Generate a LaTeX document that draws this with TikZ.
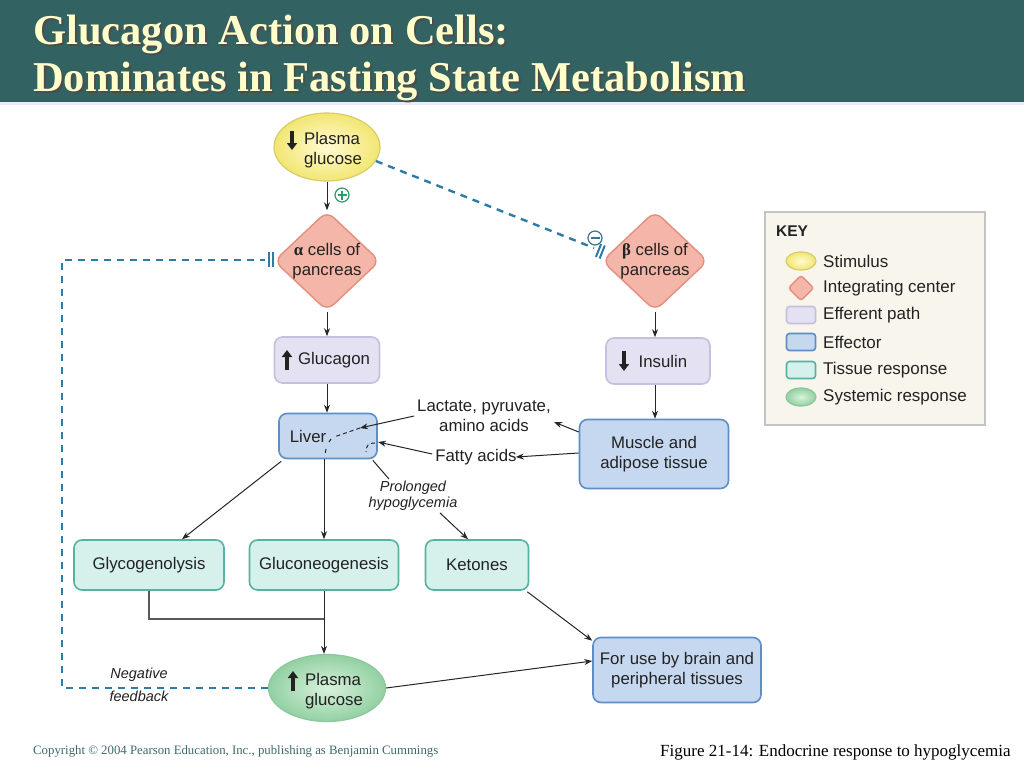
\documentclass[tikz,border=0pt]{standalone}
\usepackage{fontspec}
\setmainfont{Liberation Sans}
\newfontfamily\seriffont{Liberation Serif}
\usetikzlibrary{shapes.geometric,arrows.meta,calc}
\definecolor{banner}{HTML}{326262}
\definecolor{titletxt}{HTML}{FFFFCC}
\definecolor{txtc}{HTML}{222222}
\definecolor{stimIn}{HTML}{FFFBD2}
\definecolor{stimOut}{HTML}{F2E672}
\definecolor{stimD}{HTML}{D8CC66}
\definecolor{intF}{HTML}{F4B6A8}
\definecolor{intD}{HTML}{E48E7E}
\definecolor{effpF}{HTML}{E4E1F2}
\definecolor{effpD}{HTML}{C6BFDD}
\definecolor{effF}{HTML}{C6D8EF}
\definecolor{effD}{HTML}{5E8EC3}
\definecolor{tisF}{HTML}{D6F0EB}
\definecolor{tisD}{HTML}{55B3A3}
\definecolor{sysIn}{HTML}{D8F2DC}
\definecolor{sysOut}{HTML}{92D0A2}
\definecolor{sysD}{HTML}{8CC89C}
\definecolor{fbc}{HTML}{2E7BA6}
\definecolor{keyF}{HTML}{F7F5EC}
\definecolor{keyD}{HTML}{C4C4C4}
\definecolor{plusc}{HTML}{2F9A6A}
\definecolor{minusc}{HTML}{3F7488}
\definecolor{copyc}{HTML}{3F6A6A}
\tikzset{
  txt/.style={font=\fontsize{16.8}{19.5}\selectfont, text=txtc, align=center, inner sep=0pt},
  ital/.style={font=\fontsize{14.5}{16}\selectfont\itshape, text=txtc, align=center, inner sep=1pt},
  boxbase/.style={draw, rounded corners=8pt, line width=1.6pt, inner sep=0pt, txt},
  effpath/.style={boxbase, fill=effpF, draw=effpD},
  effector/.style={boxbase, fill=effF, draw=effD},
  tissue/.style={boxbase, fill=tisF, draw=tisD},
  stimulus/.style={ellipse, draw=stimD, line width=1.2pt, inner color=stimIn, outer color=stimOut, inner sep=0pt},
  systemic/.style={ellipse, draw=sysD, line width=1.2pt, inner color=sysIn, outer color=sysOut, inner sep=0pt},
  integ/.style={diamond, draw=intD, fill=intF, line width=1.4pt, rounded corners=9pt, inner sep=0pt},
  arr/.style={-{Stealth[length=8pt,width=6pt]}, line width=1pt, black!85},
  plain/.style={line width=1pt, black!85},
  joinline/.style={line width=1.6pt, black!65},
  fb/.style={line width=2.4pt, fbc, dash pattern=on 7pt off 6pt},
  tick/.style={line width=2pt, fbc},
  inner/.style={line width=1pt, black!85, dash pattern=on 4pt off 3pt},
  keytxt/.style={font=\fontsize{17}{19}\selectfont, text=txtc, anchor=west, inner sep=0pt},
  thickarr/.style={line width=3.2pt, txtc, -{Triangle[length=7pt,width=10pt]}},
}
\begin{document}
\begin{tikzpicture}[x=1pt,y=-1pt]
\useasboundingbox (0,0) rectangle (1024,768);
\fill[white] (0,0) rectangle (1024,768);
% banner
\fill[banner] (0,0) rectangle (1024,102);
\fill[black!15!blue!8] (0,102) rectangle (1024,105);
\foreach \dx/\dy/\col in {2/2/black!70, 0/0/titletxt}{
  \node[anchor=base west, inner sep=0pt, text=\col, font=\seriffont\bfseries\fontsize{42.5}{45}\selectfont] at (33+\dx,45+\dy) {Glucagon Action on Cells:};
  \node[anchor=base west, inner sep=0pt, text=\col, font=\seriffont\bfseries\fontsize{42.5}{45}\selectfont] at (33+\dx,91+\dy) {Dominates in Fasting State Metabolism};
}

% nodes
\node[stimulus, minimum width=106, minimum height=68] (pg1) at (327,147) {};
\node[txt, align=left] (pg1t) at (333,150) {Plasma\\glucose};
\draw[thickarr] (292,131) -- (292,150);

\node[integ, minimum width=106, minimum height=100] (alpha) at (327,261) {};
\node[txt] (alphat) at (327,261) {{\seriffont\bfseries α} cells of\\pancreas};
\node[integ, minimum width=106, minimum height=100] (beta) at (655,261) {};
\node[txt] (betat) at (655,261) {{\seriffont\bfseries β} cells of\\pancreas};

\node[effpath, minimum width=105, minimum height=46] (glucagon) at (327,360) {\hspace*{14pt}Glucagon};
\draw[thickarr] (287,370) -- (287,350);
\node[effpath, minimum width=104, minimum height=46] (insulin) at (658,361) {\hspace*{10pt}Insulin};
\draw[thickarr] (624,351) -- (624,371);

\node[effector, minimum width=98, minimum height=45] (liver) at (328,436) {};
\node[txt] (livert) at (308,436) {Liver};
\node[effector, minimum width=149, minimum height=69] (muscle) at (654,454) {Muscle and\\adipose tissue};

\node[txt] (lact) at (484,416) {Lactate, pyruvate,\\amino acids};
\node[txt] (fatty) at (476,457) {Fatty acids};
\node[ital] (prol) at (413,496) {Prolonged\\hypoglycemia};

\node[tissue, minimum width=150, minimum height=50] (glyco) at (149,565) {Glycogenolysis};
\node[tissue, minimum width=149, minimum height=50] (gluconeo) at (324,565) {Gluconeogenesis};
\node[tissue, minimum width=103, minimum height=50] (ketones) at (477,565) {Ketones};

\node[systemic, minimum width=117, minimum height=67] (pg2) at (327,688) {};
\node[txt, align=left] (pg2t) at (334,691) {Plasma\\glucose};
\draw[thickarr] (293,691) -- (293,671);

\node[effector, minimum width=168, minimum height=65] (foruse) at (677,670) {For use by brain and\\peripheral tissues};

\node[font=\fontsize{14.5}{23}\selectfont\itshape, text=txtc, align=center, inner sep=0pt] (negfb) at (139,685) {Negative\\feedback};

% plus / minus signs
\node[circle, draw=plusc, line width=1.2pt, minimum size=14, inner sep=0pt] (plus) at (342,195) {};
\draw[plusc, line width=1.2pt] ($(plus)+(-4.5,0)$) -- ($(plus)+(4.5,0)$) ($(plus)+(0,-4.5)$) -- ($(plus)+(0,4.5)$);
\node[circle, draw=minusc, line width=1.2pt, minimum size=14, inner sep=0pt] (minus) at (595,238) {};
\draw[minusc, line width=1.2pt] ($(minus)+(-4.5,0)$) -- ($(minus)+(4.5,0)$);

% arrows
\draw[arr] (pg1.south) -- (alpha.north);
\draw[arr] (alpha.south) -- (glucagon.north);
\draw[arr] (glucagon.south) -- (liver.north -| glucagon.south);
\draw[arr] (beta.south) -- (beta.south |- insulin.north);
\draw[arr] (beta.south |- insulin.south) -- (beta.south |- muscle.north);

\coordinate (lacttip) at (360,428);
\coordinate (fattytip) at (378,442);
\draw[arr] ([yshift=22pt]muscle.west) -- ([xshift=3pt,yshift=-6pt]lact.east);
\draw[arr] ([xshift=-3pt]lact.west) -- (lacttip);
\draw[arr] ([yshift=1pt]muscle.west) -- ([xshift=-1pt]fatty.east);
\draw[arr] ([xshift=-3pt,yshift=3pt]fatty.west) -- (fattytip);
% dashed continuations inside liver
\draw[inner] (lacttip) -- (334,437);
\draw[inner] (331,439) -- (329,442);
\draw[inner] (fattytip) ++(-3,1) .. controls (368,443) and (366,446) .. (366,452);
\draw[inner] (326,449) -- (325,455);

\draw[arr] ([xshift=3pt,yshift=-2pt]liver.south west) -- ([xshift=33pt]glyco.north);
\draw[arr] (gluconeo.north |- liver.south) -- (gluconeo.north);
\draw[plain] ([xshift=-5pt,yshift=-1pt]liver.south east) -- ([xshift=-24pt,yshift=1pt]prol.north);
\draw[arr] ([xshift=27pt,yshift=-1pt]prol.south) -- ([xshift=-9pt]ketones.north);

\draw[joinline] (glyco.south) -- ++(0,28) coordinate (jn) -- (jn -| gluconeo.south);
\draw[arr] (gluconeo.south) -- (gluconeo.south |- pg2.north);
\draw[arr] ([xshift=-2pt,yshift=-1pt]ketones.south east) -- ([xshift=0pt,yshift=-4pt]foruse.north west);
\draw[arr] (pg2.east) -- ([yshift=9pt]foruse.west);

% dashed inhibitory line to beta cells
\coordinate (btip) at (594,248);
\draw[fb] (pg1.-16) -- (btip);
\draw[tick] (601.1,244) -- (595.9,257);
\draw[tick] (604.8,245.5) -- (599.6,258.5);

% negative feedback
\coordinate (fcorner1) at (62,688);
\coordinate (fcorner2) at (62,260);
\coordinate (atip) at (265,260);
\draw[fb] (pg2.west) -- (fcorner1) -- (fcorner2) -- (atip);
\draw[tick] (269,252) -- (269,267);
\draw[tick] (273,252) -- (273,267);

% key
\node[draw=keyD, fill=keyF, line width=2pt, minimum width=220, minimum height=213, inner sep=0pt] (key) at (875,318.5) {};
\node[font=\bfseries\fontsize{15.5}{18}\selectfont, text=txtc, anchor=west, inner sep=0pt] (keyt) at (776,231) {KEY};
\node[stimulus, minimum width=30, minimum height=18] (k1) at (801,261) {};
\node[keytxt] (k1t) at (823,261) {Stimulus};
\node[integ, rounded corners=3pt, minimum width=26, minimum height=26] (k2) at (801,288) {};
\node[keytxt] (k2t) at (823,288) {Integrating center};
\node[effpath, rounded corners=3pt, minimum width=29, minimum height=17] (k3) at (801,315) {};
\node[keytxt] (k3t) at (823,315) {Efferent path};
\node[effector, rounded corners=3pt, minimum width=29, minimum height=17] (k4) at (801,342) {};
\node[keytxt] (k4t) at (823,342) {Effector};
\node[tissue, rounded corners=3pt, minimum width=29, minimum height=17] (k5) at (801,370) {};
\node[keytxt] (k5t) at (823,370) {Tissue response};
\node[systemic, minimum width=30, minimum height=18] (k6) at (801,397) {};
\node[keytxt] (k6t) at (823,397) {Systemic response};

% footer
\node[anchor=base west, inner sep=0pt, text=copyc, font=\seriffont\fontsize{12.8}{13}\selectfont] (copy) at (33,754) {Copyright © 2004 Pearson Education, Inc., publishing as Benjamin Cummings};
\node[anchor=base west, inner sep=0pt, text=black, font=\seriffont\fontsize{17}{18}\selectfont] (cap) at (660,756) {Figure 21-14: Endocrine response to hypoglycemia};
\end{tikzpicture}
\end{document}
